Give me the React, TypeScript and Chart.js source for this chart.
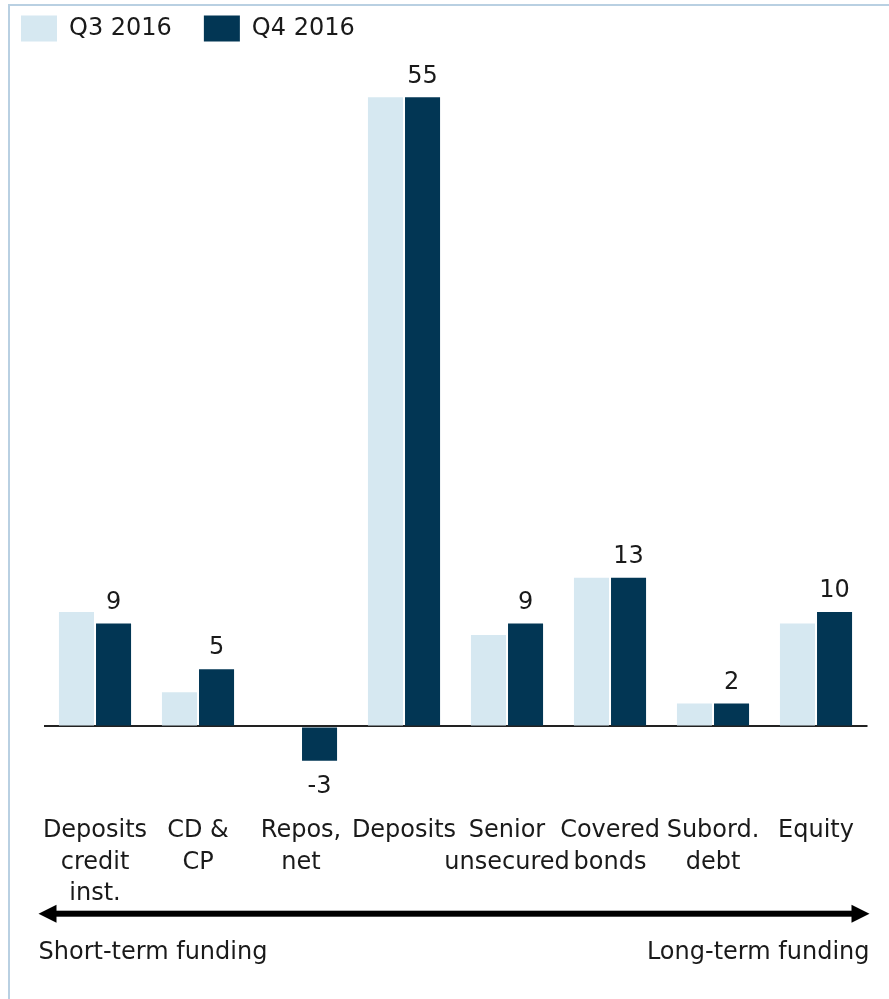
import React, { useEffect, useRef } from "react";
import { Chart, registerables } from "chart.js";

Chart.register(...registerables);

const categories: string[][] = [
  ["Deposits", "credit", "inst."],
  ["CD &", "CP"],
  ["Repos,", "net"],
  ["Deposits"],
  ["Senior", "unsecured"],
  ["Covered", "bonds"],
  ["Subord.", "debt"],
  ["Equity"],
];
const q3Values = [10, 3, 0, 55, 8, 13, 2, 9];
const q4Values = [9, 5, -3, 55, 9, 13, 2, 10];
const seriesNames = ["Q3 2016", "Q4 2016"];
const leftNote = "Short-term funding";
const rightNote = "Long-term funding";

const FONT = "'DejaVu Sans', sans-serif";
const FS = 24;
const TEXT = "#1a1a1a";
const LIGHT = "#d6e8f1";
const DARK = "#023654";

const extrasPlugin = {
  id: "extras",
  beforeDraw(chart: any) {
    const ctx = chart.ctx;
    ctx.save();
    ctx.fillStyle = "#ffffff";
    ctx.fillRect(0, 0, chart.width, chart.height);
    ctx.strokeStyle = "#b9d0e2";
    ctx.lineWidth = 2;
    ctx.beginPath();
    ctx.moveTo(9, chart.height + 5);
    ctx.lineTo(9, 5);
    ctx.lineTo(chart.width + 5, 5);
    ctx.stroke();
    ctx.restore();
  },
  afterDatasetsDraw(chart: any) {
    const ctx = chart.ctx;
    ctx.save();
    ctx.font = `${FS}px ${FONT}`;
    ctx.fillStyle = TEXT;
    ctx.textAlign = "center";
    ctx.textBaseline = "middle";
    const meta = chart.getDatasetMeta(1);
    const ds = chart.data.datasets[1].data as number[];
    meta.data.forEach((bar: any, i: number) => {
      const v = ds[i];
      const y = v >= 0 ? bar.y - 21 : bar.y + 26;
      ctx.fillText(String(v), bar.x, y);
    });
    ctx.restore();
  },
  afterDraw(chart: any) {
    const ctx = chart.ctx;
    const area = chart.chartArea;
    const xScale = chart.scales.x;
    const ay = xScale.bottom + 0.5;
    const x0 = area.left - 5;
    const x1 = area.right + 2;
    ctx.save();
    ctx.fillStyle = "#000";
    ctx.fillRect(x0 + 16, ay - 3, x1 - x0 - 32, 6);
    ctx.beginPath();
    ctx.moveTo(x0, ay);
    ctx.lineTo(x0 + 18, ay - 9);
    ctx.lineTo(x0 + 18, ay + 9);
    ctx.closePath();
    ctx.fill();
    ctx.beginPath();
    ctx.moveTo(x1, ay);
    ctx.lineTo(x1 - 18, ay - 9);
    ctx.lineTo(x1 - 18, ay + 9);
    ctx.closePath();
    ctx.fill();
    ctx.font = `${FS}px ${FONT}`;
    ctx.fillStyle = TEXT;
    ctx.textBaseline = "middle";
    ctx.textAlign = "left";
    ctx.fillText(leftNote, x0, ay + 39);
    ctx.textAlign = "right";
    ctx.fillText(rightNote, x1, ay + 39);
    ctx.restore();
  },
};

export default function App() {
  const ref = useRef<HTMLCanvasElement | null>(null);
  useEffect(() => {
    if (!ref.current) return;
    const chart = new Chart(ref.current, {
      type: "bar",
      data: {
        labels: categories,
        datasets: [
          {
            label: seriesNames[0],
            data: q3Values,
            backgroundColor: LIGHT,
            categoryPercentage: 0.72,
            barPercentage: 0.945,
          },
          {
            label: seriesNames[1],
            data: q4Values,
            backgroundColor: DARK,
            categoryPercentage: 0.72,
            barPercentage: 0.945,
          },
        ],
      },
      options: {
        responsive: false,
        animation: false,
        devicePixelRatio: 1,
        layout: { padding: { left: -11, right: 21.5, top: -16.4, bottom: 85.8 } },
        plugins: {
          legend: {
            display: true,
            position: "top",
            align: "start",
            labels: {
              boxWidth: 36,
              boxHeight: 26,
              padding: 32,
              color: TEXT,
              font: { family: FONT, size: FS },
            },
          },
          tooltip: { enabled: false },
        },
        scales: {
          x: {
            grid: { display: false, drawTicks: false },
            border: { display: false },
            ticks: {
              color: TEXT,
              font: { family: FONT, size: FS, lineHeight: 1.33 },
              autoSkip: false,
              maxRotation: 0,
              minRotation: 0,
              padding: 3,
            },
          },
          y: {
            min: -7.43,
            max: 59.0,
            afterFit: (s: any) => {
              s.width = 54.5;
            },
            ticks: { display: false, stepSize: 5 },
            border: { display: false },
            grid: {
              drawTicks: false,
              lineWidth: 2,
              color: (c: any) => (c.tick && c.tick.value === 0 ? "#222" : "rgba(0,0,0,0)"),
            },
          },
        },
      },
      plugins: [extrasPlugin],
    });
    return () => chart.destroy();
  }, []);
  return (
    <div style={{ position: "fixed", left: 0, top: 0, width: 889, height: 999, background: "#fff" }}>
      <canvas ref={ref} width={889} height={999} />
    </div>
  );
}
